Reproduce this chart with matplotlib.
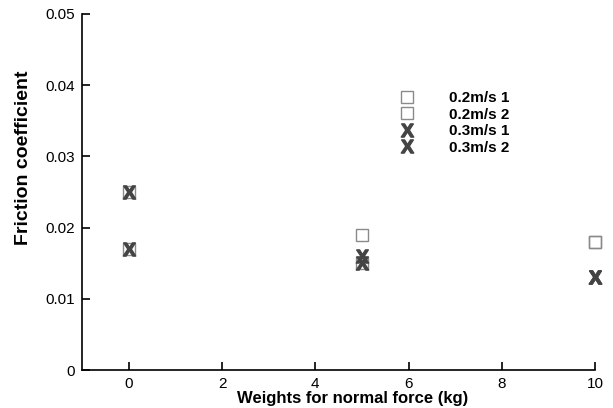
import matplotlib
matplotlib.use("Agg")
import matplotlib.pyplot as plt

plt.rcParams["font.family"] = ["Liberation Sans", "DejaVu Sans"]
plt.rcParams["mathtext.fontset"] = "custom"
plt.rcParams["mathtext.bf"] = "Liberation Sans:bold"

# series: weight (kg) -> friction coefficient
x_02_1 = [0, 5, 10]
y_02_1 = [0.025, 0.019, 0.018]
x_02_2 = [0, 5, 10]
y_02_2 = [0.017, 0.015, 0.018]
x_03_1 = [0, 5, 10]
y_03_1 = [0.025, 0.016, 0.013]
x_03_2 = [0, 5, 10]
y_03_2 = [0.017, 0.015, 0.013]
labels = ["0.2m/s 1", "0.2m/s 2", "0.3m/s 1", "0.3m/s 2"]

fig = plt.figure(figsize=(6.13, 4.08), dpi=100)
ax = fig.add_axes([0.134, 0.093, 0.837, 0.873])

sq = dict(marker="s", ms=9, mfc="none", mec="#8a8a8a", mew=1.0, ls="none", clip_on=False)
xx = dict(marker=r"$\mathbf{X}$", ms=9.5, color="#444444", mec="#444444", ls="none", clip_on=False)
ax.plot(x_02_1, y_02_1, label=labels[0], **sq)
ax.plot(x_02_2, y_02_2, label=labels[1], **sq)
ax.plot(x_03_1, y_03_1, label=labels[2], **xx)
ax.plot(x_03_2, y_03_2, label=labels[3], **xx)

ax.set_xlim(-1, 10)
ax.set_ylim(0, 0.05)
ax.set_xticks([0, 2, 4, 6, 8, 10])
ax.set_yticks([0, 0.01, 0.02, 0.03, 0.04, 0.05])
ax.set_yticklabels(["0", "0.01", "0.02", "0.03", "0.04", "0.05"])
ax.tick_params(direction="in", length=6, width=1.2, labelsize=11, pad=5)
for side in ("top", "right"):
    ax.spines[side].set_visible(False)
for side in ("left", "bottom"):
    ax.spines[side].set_linewidth(1.2)

ax.set_xlabel("Weights for normal force (kg)", fontsize=12, fontweight="bold", va="top")
ax.xaxis.set_label_coords(0.528, -0.058)
ax.set_ylabel("Friction coefficient", fontsize=14, fontweight="bold")
ax.yaxis.set_label_coords(-0.097, 0.595)

leg = ax.legend(loc="upper left", bbox_to_anchor=(0.607, 0.80), frameon=False,
                prop={"weight": "bold", "size": 11}, handletextpad=2.2,
                labelspacing=0.16, handlelength=1.0, borderaxespad=0)

fig.savefig("out.png", dpi=100)
